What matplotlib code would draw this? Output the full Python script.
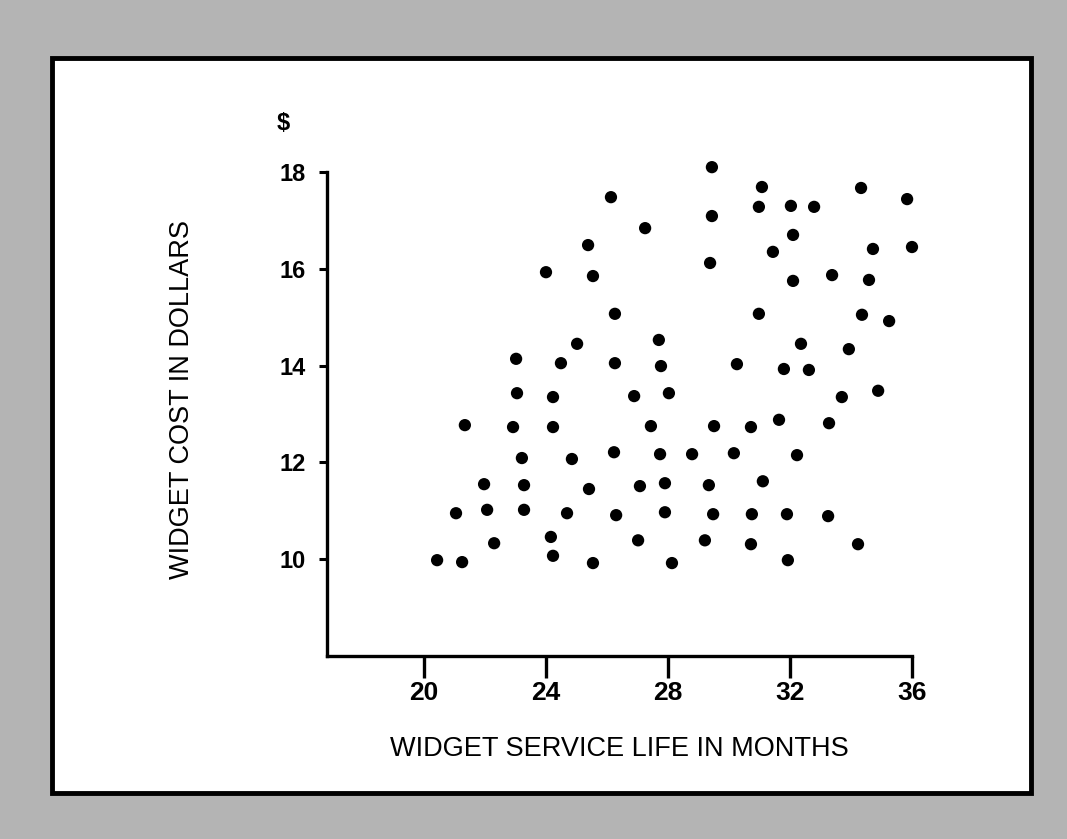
import matplotlib
matplotlib.use("Agg")
import matplotlib.pyplot as plt
from matplotlib.patches import Rectangle

# widget service life (months) and cost (dollars)
life_months = [
    26.13, 27.25, 25.38, 24.00, 25.54, 26.26, 25.02, 27.70, 23.02, 24.49,
    26.26, 27.77, 23.05, 24.23, 26.89, 28.03,
    29.44, 31.08, 34.33, 35.84, 30.98, 32.03, 32.79, 29.44, 32.10, 31.44,
    34.72, 36.00, 29.38, 32.10, 33.38, 34.59, 30.98, 34.36, 35.25, 32.36,
    33.93, 30.26, 31.80, 32.62, 33.70, 34.89,
    21.34, 22.92, 24.23, 27.44, 23.21, 24.85, 26.23, 27.74, 28.79,
    21.97, 23.28, 25.41, 27.08, 27.90,
    21.05, 22.07, 23.28, 24.69, 26.30, 27.90,
    22.30, 24.16, 27.02,
    20.43, 21.25, 24.23, 25.54, 28.13,
    29.51, 30.72, 31.64, 33.28, 30.16, 32.23, 29.34, 31.11,
    29.48, 30.75, 31.90, 33.25, 29.21, 30.72, 34.23, 31.93,
]
cost_dollars = [
    17.48, 16.84, 16.49, 15.93, 15.85, 15.07, 14.45, 14.53, 14.14, 14.05,
    14.05, 13.99, 13.43, 13.35, 13.37, 13.43,
    18.10, 17.69, 17.67, 17.44, 17.28, 17.30, 17.28, 17.09, 16.70, 16.35,
    16.41, 16.45, 16.12, 15.75, 15.87, 15.77, 15.07, 15.05, 14.92, 14.45,
    14.34, 14.03, 13.93, 13.91, 13.35, 13.48,
    12.77, 12.73, 12.73, 12.75, 12.09, 12.07, 12.21, 12.17, 12.17,
    11.55, 11.53, 11.45, 11.51, 11.57,
    10.95, 11.02, 11.02, 10.95, 10.91, 10.97,
    10.33, 10.46, 10.39,
    9.98, 9.94, 10.07, 9.92, 9.92,
    12.75, 12.73, 12.88, 12.81, 12.19, 12.15, 11.53, 11.61,
    10.93, 10.93, 10.93, 10.89, 10.39, 10.31, 10.31, 9.98,
]
x_ticks = [20, 24, 28, 32, 36]
y_ticks = [10, 12, 14, 16, 18]

plt.rcParams['font.family'] = ['Liberation Sans', 'DejaVu Sans']

fig = plt.figure(figsize=(10.67, 8.39), dpi=100, facecolor='#b4b4b4')

# white panel with a black frame, drawn under the axes
panel = Rectangle((52 / 1067, 1 - 793 / 839), (1031 - 52) / 1067, (793 - 58) / 839,
                  transform=fig.transFigure, facecolor='white',
                  edgecolor='black', linewidth=3.5, zorder=-10)
fig.add_artist(panel)

ax = fig.add_axes([327 / 1067, 1 - 656 / 839, (912 - 327) / 1067, (656 - 172) / 839])
ax.set_zorder(5)
ax.patch.set_alpha(0)

ax.scatter(life_months, cost_dollars, s=78, color='black', edgecolors='none',
           zorder=3, clip_on=False)

ax.set_xlim(16.82, 36)
ax.set_ylim(8, 18)
ax.set_xticks(x_ticks)
ax.set_yticks(y_ticks)

for side in ['top', 'right']:
    ax.spines[side].set_visible(False)
for side in ['left', 'bottom']:
    ax.spines[side].set_linewidth(2.4)

ax.tick_params(axis='x', direction='out', length=16, width=2.4, pad=2, labelsize=19)
ax.tick_params(axis='y', direction='out', length=6, width=2.2, pad=9, labelsize=17)
for lab in ax.get_xticklabels() + ax.get_yticklabels():
    lab.set_fontweight('bold')

ax.set_xlabel('WIDGET SERVICE LIFE IN MONTHS', fontsize=19.5, labelpad=22)
ax.set_ylabel('WIDGET COST IN DOLLARS', fontsize=19.5)
ax.yaxis.set_label_coords(-0.225, 0.53)
ax.text(-0.075, 1.1, '$', transform=ax.transAxes, fontsize=17, fontweight='bold',
        ha='center', va='center')

fig.savefig('out.png', dpi=100, facecolor=fig.get_facecolor())
